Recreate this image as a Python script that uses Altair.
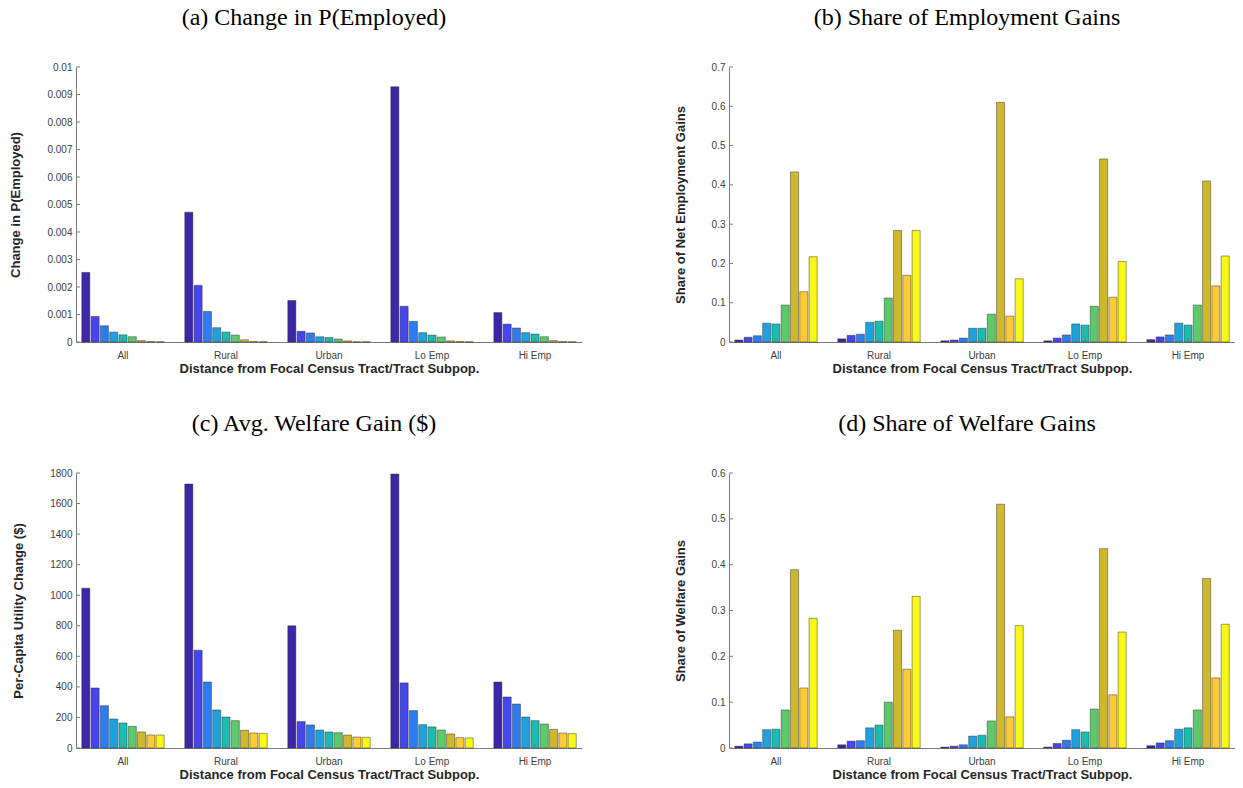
import altair as alt
import pandas as pd

groups = ["All", "Rural", "Urban", "Lo Emp", "Hi Emp"]
bins = [1, 2, 3, 4, 5, 6, 7, 8, 9]
colors = ["#3E26A8", "#4546EE", "#2E7CF2", "#1DA2DD", "#1CBDB1", "#5DC96A",
          "#CDB92B", "#FBCA36", "#F8F716"]

# (a) Change in P(Employed)
pemp_all = [0.00253, 0.00093, 0.00059, 0.00036, 0.00026, 0.00019, 0.00005, 0.00002, 0.00001]
pemp_rural = [0.00472, 0.00206, 0.00111, 0.00052, 0.00036, 0.00025, 0.00008, 0.00002, 0.00001]
pemp_urban = [0.00151, 0.00039, 0.00033, 0.00019, 0.00016, 0.00011, 0.00004, 0.00001, 0.00001]
pemp_loemp = [0.00928, 0.00130, 0.00075, 0.00034, 0.00025, 0.00018, 0.00004, 0.00002, 0.00001]
pemp_hiemp = [0.00107, 0.00065, 0.00051, 0.00034, 0.00029, 0.00019, 0.00005, 0.00002, 0.00001]
pemp_ticks = [0, 0.001, 0.002, 0.003, 0.004, 0.005, 0.006, 0.007, 0.008, 0.009, 0.01]

# (b) Share of Employment Gains
semp_all = [0.005, 0.012, 0.016, 0.048, 0.046, 0.094, 0.433, 0.128, 0.217]
semp_rural = [0.008, 0.017, 0.020, 0.050, 0.053, 0.112, 0.284, 0.170, 0.284]
semp_urban = [0.003, 0.005, 0.010, 0.035, 0.035, 0.071, 0.610, 0.066, 0.161]
semp_loemp = [0.003, 0.010, 0.018, 0.046, 0.043, 0.091, 0.466, 0.114, 0.205]
semp_hiemp = [0.006, 0.013, 0.018, 0.048, 0.043, 0.094, 0.410, 0.143, 0.219]
semp_ticks = [0, 0.1, 0.2, 0.3, 0.4, 0.5, 0.6, 0.7]

# (c) Avg. Welfare Gain ($)
welf_all = [1046, 393, 277, 190, 164, 142, 105, 85, 85]
welf_rural = [1728, 640, 432, 249, 203, 179, 116, 98, 96]
welf_urban = [800, 173, 151, 118, 105, 100, 85, 72, 70]
welf_loemp = [1793, 426, 245, 153, 138, 118, 92, 68, 66]
welf_hiemp = [432, 334, 288, 203, 179, 157, 122, 98, 94]
welf_ticks = [0, 200, 400, 600, 800, 1000, 1200, 1400, 1600, 1800]

# (d) Share of Welfare Gains
swelf_all = [0.004, 0.009, 0.013, 0.040, 0.041, 0.083, 0.389, 0.131, 0.283]
swelf_rural = [0.007, 0.015, 0.016, 0.044, 0.050, 0.100, 0.257, 0.172, 0.331]
swelf_urban = [0.002, 0.004, 0.007, 0.026, 0.028, 0.059, 0.532, 0.068, 0.267]
swelf_loemp = [0.002, 0.010, 0.017, 0.040, 0.035, 0.085, 0.435, 0.116, 0.253]
swelf_hiemp = [0.005, 0.011, 0.016, 0.041, 0.044, 0.083, 0.370, 0.153, 0.270]
swelf_ticks = [0, 0.1, 0.2, 0.3, 0.4, 0.5, 0.6]

XTITLE = "Distance from Focal Census Tract/Tract Subpop."
W, H = 506, 275
AXC = "#7a7a7a"


def panel(series, title, ytitle, ymax, yticks, fmt):
    rows = []
    for g, vals in zip(groups, series):
        for b, v in zip(bins, vals):
            rows.append({"group": g, "bin": b, "value": v})
    df = pd.DataFrame(rows)
    xscale = alt.Scale(domain=groups, paddingInner=0.2, paddingOuter=0.056)
    yscale = alt.Scale(domain=[0, ymax], nice=False, zero=True)
    xaxis = alt.Axis(title=XTITLE, labelAngle=0, ticks=False, tickSize=0,
                     labelPadding=8, titlePadding=2, labelOverlap=False)
    yaxis = alt.Axis(title=ytitle, values=yticks, format=fmt, ticks=False,
                     tickSize=0, labelPadding=4, titlePadding=24,
                     labelOverlap=False, labelFlush=False)
    bars = alt.Chart(df).mark_bar(stroke="#2a2a2a", strokeWidth=0.6,
                                  strokeOpacity=0.75).encode(
        x=alt.X("group:N", scale=xscale, sort=groups, axis=xaxis),
        xOffset=alt.XOffset("bin:O", scale=alt.Scale(paddingInner=0.13, paddingOuter=0)),
        y=alt.Y("value:Q", scale=yscale, axis=yaxis),
        color=alt.Color("bin:O", scale=alt.Scale(domain=bins, range=colors), legend=None),
    )
    xt = alt.Chart(pd.DataFrame({"group": groups})).mark_rule(
        color=AXC, strokeWidth=1).encode(
        x=alt.X("group:N", sort=groups, scale=xscale, axis=xaxis),
        y=alt.value(H), y2=alt.value(H - 4))
    yt = alt.Chart(pd.DataFrame({"value": yticks})).mark_rule(
        color=AXC, strokeWidth=1).encode(
        y=alt.Y("value:Q", scale=yscale, axis=yaxis),
        x=alt.value(0), x2=alt.value(4))
    return alt.layer(bars, xt, yt).properties(
        width=W, height=H,
        title=alt.TitleParams(title, font="Liberation Serif", fontSize=24,
                              fontWeight="normal", color="#000000", dx=-15,
                              offset=32, anchor="middle"),
    )


pa = panel([pemp_all, pemp_rural, pemp_urban, pemp_loemp, pemp_hiemp],
           "(a) Change in P(Employed)", "Change in P(Employed)", 0.01, pemp_ticks, "~g")
pb = panel([semp_all, semp_rural, semp_urban, semp_loemp, semp_hiemp],
           "(b) Share of Employment Gains", "Share of Net Employment Gains", 0.7, semp_ticks, "~g")
pc = panel([welf_all, welf_rural, welf_urban, welf_loemp, welf_hiemp],
           "(c) Avg. Welfare Gain ($)", "Per-Capita Utility Change ($)", 1800, welf_ticks, "d")
pd_ = panel([swelf_all, swelf_rural, swelf_urban, swelf_loemp, swelf_hiemp],
            "(d) Share of Welfare Gains", "Share of Welfare Gains", 0.6, swelf_ticks, "~g")

chart = alt.concat(pa, pb, pc, pd_, columns=2,
                   spacing={"row": 131, "column": 147}).properties(
    bounds="flush",
    padding={"left": 9, "top": 6, "right": 0, "bottom": 0},
    background="white",
).configure_view(stroke=None).configure_axis(
    domainColor=AXC, domainWidth=1, grid=False,
    labelFont="Liberation Sans", labelFontSize=10, labelColor="#404040",
    titleFont="Liberation Sans", titleFontSize=13, titleFontWeight="bold",
    titleColor="#262626",
)

chart.save("out.html", embed_options={"renderer": "svg", "actions": False})
